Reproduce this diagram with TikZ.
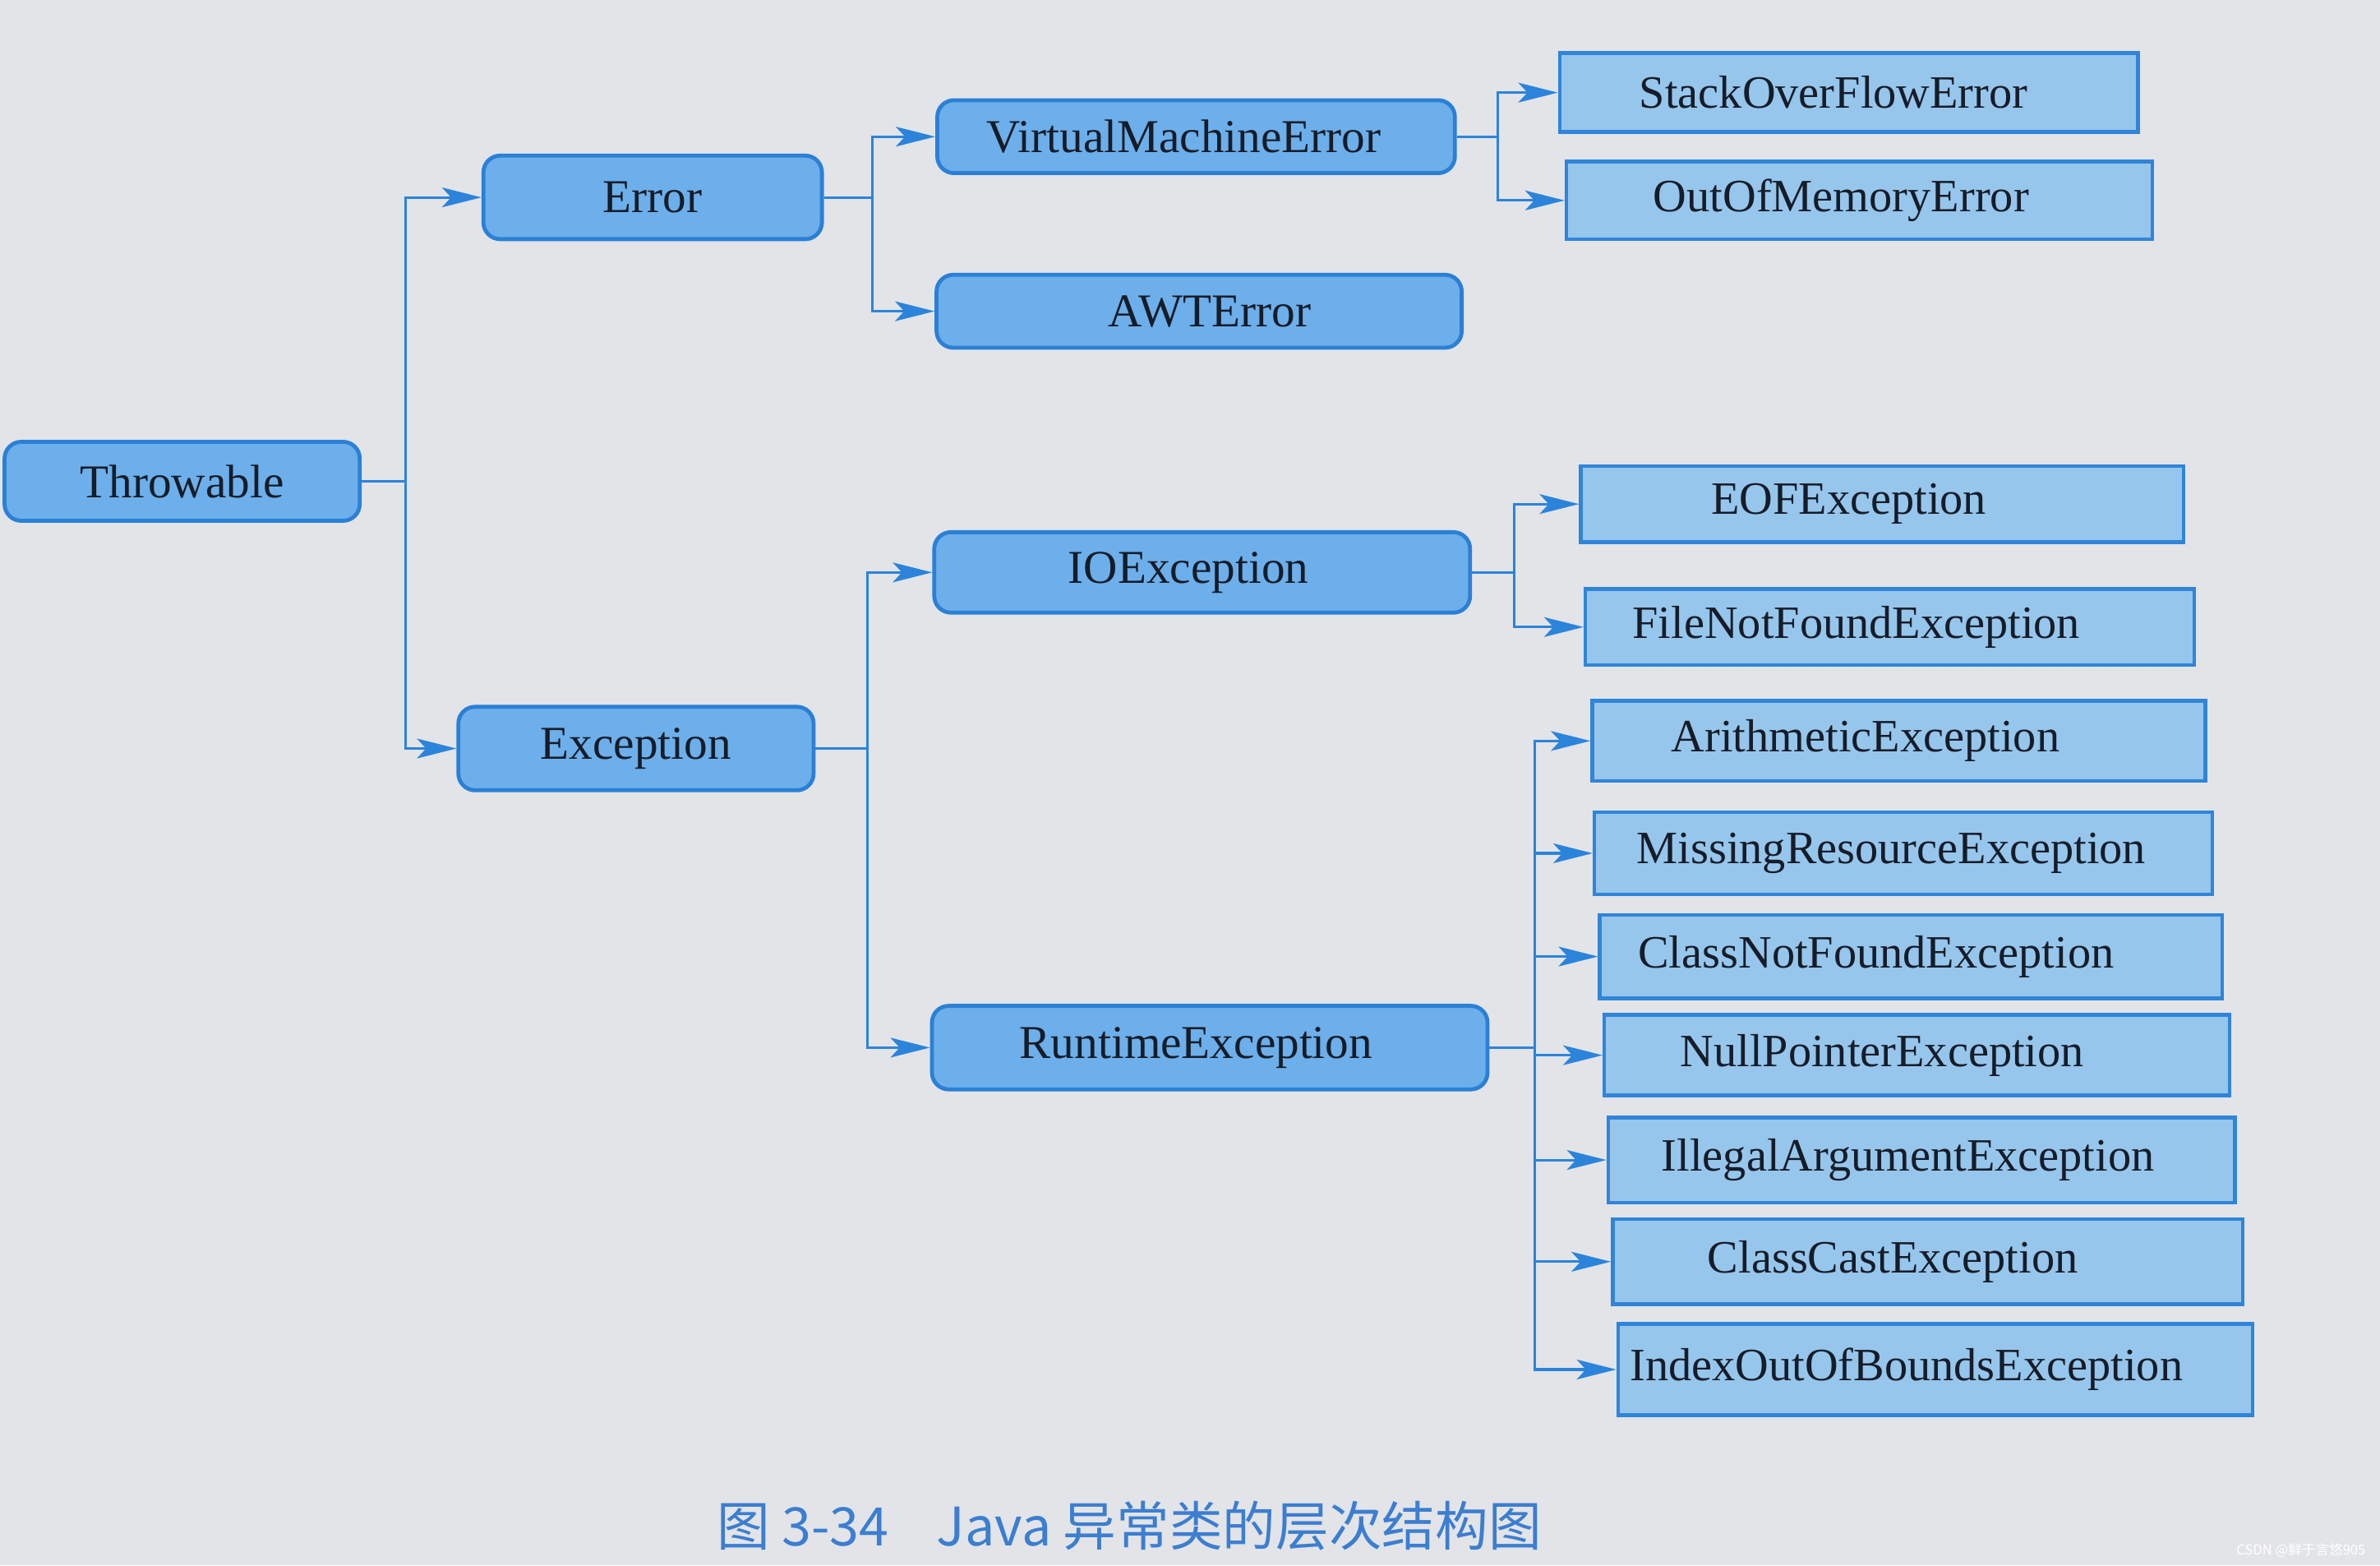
\documentclass[tikz,border=0pt]{standalone}
\usepackage{fontspec}
\setmainfont{Liberation Serif}
\newfontfamily\cjkfont{Noto Sans CJK SC}
\usetikzlibrary{arrows.meta}
\definecolor{paper}{HTML}{E2E4E8}
\definecolor{rfill}{HTML}{6CAFEA}
\definecolor{rdraw}{HTML}{2B80D6}
\definecolor{bfill}{HTML}{96C6EC}
\definecolor{bdraw}{HTML}{3085D8}
\definecolor{lnk}{HTML}{2C84DA}
\definecolor{cap}{HTML}{3C7ECF}
\definecolor{txt}{HTML}{161C28}
\tikzset{
  rbox/.style={draw=rdraw, fill=rfill, line width=2.6pt, rounded corners=11pt,
    inner sep=0pt, text=txt, font=\fontsize{31}{35}\selectfont},
  sbox/.style={draw=bdraw, fill=bfill, line width=2.4pt,
    inner sep=0pt, text=txt, font=\fontsize{30.5}{34}\selectfont},
  tsh/.style={execute at begin node={\hspace*{#1}}},
  link/.style={draw=lnk, line width=1.7pt},
  arr/.style={link, -{Stealth[length=26pt,width=13pt,inset=6pt]}},
}
\begin{document}
\begin{tikzpicture}[x=1pt,y=-1pt]
\fill[paper] (0,0) rectangle (1568,1031);
\useasboundingbox (0,0) rectangle (1568,1031);
% rounded boxes
\node[rbox, minimum width=234pt, minimum height=52pt] (thr) at (120,317) {Throwable};
\node[rbox, minimum width=223pt, minimum height=55pt] (err) at (430,130) {Error};
\node[rbox, minimum width=234pt, minimum height=55pt] (exc) at (419,493) {Exception};
\node[rbox, minimum width=341pt, minimum height=48pt, tsh=-16pt] (vme) at (788,90) {VirtualMachineError};
\node[rbox, minimum width=346pt, minimum height=48pt] (awt) at (790,205) {\hspace*{14pt}AWTError};
\node[rbox, minimum width=353pt, minimum height=53pt, tsh=-18pt] (ioe) at (792,377) {IOException};
\node[rbox, minimum width=366pt, minimum height=55pt, tsh=-18pt] (rte) at (797,690) {RuntimeException};
% square boxes
\node[sbox, minimum width=381pt, minimum height=52pt, tsh=-20pt] (sof) at (1218,61) {StackOverFlowError};
\node[sbox, minimum width=386pt, minimum height=51pt, tsh=-24pt] (oom) at (1225,132) {OutOfMemoryError};
\node[sbox, minimum width=397pt, minimum height=50pt, tsh=-44pt] (eof) at (1240,332) {EOFException};
\node[sbox, minimum width=401pt, minimum height=50pt, tsh=-44pt] (fnf) at (1245,413) {FileNotFoundException};
\node[sbox, minimum width=404pt, minimum height=53pt, tsh=-44pt] (ari) at (1251,488) {ArithmeticException};
\node[sbox, minimum width=407pt, minimum height=54pt, tsh=-16pt] (mre) at (1254,562) {MissingResourceException};
\node[sbox, minimum width=410pt, minimum height=55pt, tsh=-46pt] (cnf) at (1259,630) {ClassNotFoundException};
\node[sbox, minimum width=412pt, minimum height=53pt, tsh=-46pt] (npe) at (1263,695) {NullPointerException};
\node[sbox, minimum width=413pt, minimum height=56pt, tsh=-18pt] (iae) at (1266,764) {IllegalArgumentException};
\node[sbox, minimum width=415pt, minimum height=56pt, tsh=-46pt] (cce) at (1270,831) {ClassCastException};
\node[sbox, minimum width=418pt, minimum height=60pt, tsh=-38pt] (iob) at (1275,902) {IndexOutOfBoundsException};
% connectors
\draw[arr] (thr.east) -- ++(29,0) |- (err.west);
\draw[arr] (thr.east) -- ++(29,0) |- (exc.west);
\draw[arr] (err.east) -- ++(32,0) |- (vme.west);
\draw[arr] (err.east) -- ++(32,0) |- (awt.west);
\draw[arr] (exc.east) -- ++(34,0) |- (ioe.west);
\draw[arr] (exc.east) -- ++(34,0) |- (rte.west);
\draw[arr] (vme.east) -- ++(27,0) |- (sof.west);
\draw[arr] (vme.east) -- ++(27,0) |- (oom.west);
\draw[arr] (ioe.east) -- ++(28,0) |- (eof.west);
\draw[arr] (ioe.east) -- ++(28,0) |- (fnf.west);
\foreach \t in {ari,mre,cnf,npe,iae,cce,iob}
  \draw[arr] (rte.east) -- ++(30,0) |- (\t.west);
% caption
\node[text=cap, font=\cjkfont\fontsize{35}{40}\selectfont, anchor=center] (capt) at (744,1005)
  {图 3-34\hspace{0.9em}Java 异常类的层次结构图};
\node[text=white, font=\cjkfont\fontsize{9}{11}\selectfont, anchor=east] (wm) at (1562,1021)
  {CSDN @鲜于言悠905};
\end{tikzpicture}
\end{document}
